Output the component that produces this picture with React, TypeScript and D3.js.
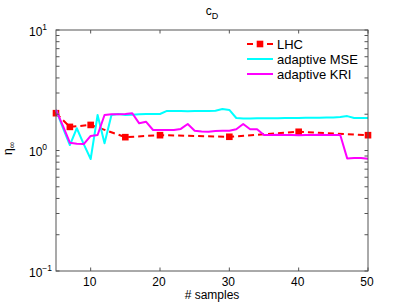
import React from "react";
import * as d3 from "d3";

const lhcN = [5, 7, 10, 15, 20, 30, 40, 50];
const lhcEta = [2.04, 1.57, 1.63, 1.29, 1.34, 1.3, 1.43, 1.34];

const adaptiveN = [
  5, 6, 7, 8, 9, 10, 11, 12, 13, 14, 15, 16, 17, 18, 19, 20, 21, 22, 23, 24, 25, 26, 27,
  28, 29, 30, 31, 32, 33, 34, 35, 36, 37, 38, 39, 40, 41, 42, 43, 44, 45, 46, 47, 48, 49, 50,
];
const mseEta = [
  2.17, 1.54, 1.11, 1.53, 1.13, 0.85, 1.97, 1.15, 1.97, 2.01, 1.97, 1.98, 2.0, 2.01, 2.01,
  2.01, 2.13, 2.13, 2.13, 2.12, 2.13, 2.13, 2.13, 2.14, 2.21, 2.17, 1.86, 1.84, 1.84, 1.85,
  1.85, 1.85, 1.85, 1.86, 1.86, 1.86, 1.87, 1.87, 1.87, 1.88, 1.88, 1.9, 1.93, 1.86, 1.86,
  1.86,
];
const kriEta = [
  2.17, 1.6, 1.16, 1.14, 1.13, 1.32, 1.345, 1.97, 2.0, 2.0, 2.01, 2.04, 1.68, 1.73, 1.48,
  1.48, 1.48, 1.48, 1.51, 1.66, 1.46, 1.44, 1.43, 1.45, 1.46, 1.46, 1.5, 1.66, 1.5, 1.5,
  1.345, 1.345, 1.35, 1.345, 1.345, 1.34, 1.345, 1.345, 1.35, 1.345, 1.345, 1.345, 0.86,
  0.867, 0.867, 0.855,
];

const xTicks = [10, 20, 30, 40, 50];
const yMajor = [0.1, 1, 10];
const yMajorExp = ["−1", "0", "1"];
const legendLabels = ["LHC", "adaptive MSE", "adaptive KRI"];
const seriesColors = ["#ff0000", "#00ffff", "#ff00ff"];

const W = 407;
const H = 306;
const L = 56;
const R = 368;
const T = 30;
const B = 271;
const FONT = "'Liberation Sans', Arial, Helvetica, sans-serif";

export default function App() {
  const x = d3.scaleLinear().domain([5, 50]).range([L, R]);
  const y = d3.scaleLog().domain([0.1, 10]).range([B, T]);

  const line = d3
    .line<[number, number]>()
    .x((d) => x(d[0]))
    .y((d) => y(d[1]));

  const lhcPts: [number, number][] = lhcN.map((n, i) => [n, lhcEta[i]]);
  const msePts: [number, number][] = adaptiveN.map((n, i) => [n, mseEta[i]]);
  const kriPts: [number, number][] = adaptiveN.map((n, i) => [n, kriEta[i]]);

  const minor: number[] = [];
  [0.1, 1].forEach((dec) => {
    for (let k = 2; k <= 9; k++) minor.push(dec * k);
  });

  const tl = 3.5;
  const axisColor = "#555";

  return (
    <svg
      width={W}
      height={H}
      style={{ position: "absolute", left: 0, top: 0, background: "#fff" }}
      fontFamily={FONT}
    >
      <rect x={0} y={0} width={W} height={H} fill="#fff" />
      {/* title */}
      <text x={212} y={15} fontSize={12} textAnchor="middle">
        c<tspan fontSize={9} dy={4}>D</tspan>
      </text>

      {/* data */}
      <g>
        <path d={line(lhcPts) || ""} fill="none" stroke={seriesColors[0]} strokeWidth={2} strokeDasharray="6,4" />
        {lhcPts.map((d, i) => (
          <rect key={i} x={x(d[0]) - 3.3} y={y(d[1]) - 3.3} width={6.6} height={6.6} fill={seriesColors[0]} />
        ))}
        <path d={line(msePts) || ""} fill="none" stroke={seriesColors[1]} strokeWidth={2} strokeLinejoin="round" />
        <path d={line(kriPts) || ""} fill="none" stroke={seriesColors[2]} strokeWidth={2} strokeLinejoin="round" />
      </g>

      {/* axes box */}
      <rect x={L} y={T} width={R - L} height={B - T} fill="none" stroke={axisColor} strokeWidth={1} />
      {xTicks.map((t) => (
        <g key={t}>
          <line x1={x(t)} x2={x(t)} y1={B} y2={B - tl} stroke={axisColor} />
          <line x1={x(t)} x2={x(t)} y1={T} y2={T + tl} stroke={axisColor} />
          <text x={x(t) - 1} y={285.5} fontSize={12} textAnchor="middle">
            {t}
          </text>
        </g>
      ))}
      {yMajor.map((t, i) => (
        <g key={t}>
          <line x1={L} x2={L + tl} y1={y(t)} y2={y(t)} stroke={axisColor} />
          <line x1={R} x2={R - tl} y1={y(t)} y2={y(t)} stroke={axisColor} />
          <text x={29} y={y(t) + 5.5} fontSize={12}>
            10
            <tspan fontSize={8.5} dy={-6}>
              {yMajorExp[i]}
            </tspan>
          </text>
        </g>
      ))}
      {minor.map((t) => (
        <g key={t}>
          <line x1={L} x2={L + tl} y1={y(t)} y2={y(t)} stroke={axisColor} />
          <line x1={R} x2={R - tl} y1={y(t)} y2={y(t)} stroke={axisColor} />
        </g>
      ))}

      {/* axis labels */}
      <text x={212} y={299} fontSize={12} textAnchor="middle">
        # samples
      </text>
      <text transform="translate(12,155) rotate(-90)" fontSize={12}>
        η<tspan fontSize={9} dy={3}>∞</tspan>
      </text>

      {/* legend */}
      {legendLabels.map((lab, i) => {
        const ly = 44 + i * 15;
        return (
          <g key={lab}>
            <line
              x1={247}
              x2={273}
              y1={ly}
              y2={ly}
              stroke={seriesColors[i]}
              strokeWidth={2}
              strokeDasharray={i === 0 ? "6,4" : undefined}
            />
            {i === 0 && <rect x={260 - 3.3} y={ly - 3.3} width={6.6} height={6.6} fill={seriesColors[0]} />}
            <text x={277} y={ly + 4.5} fontSize={13}>
              {lab}
            </text>
          </g>
        );
      })}
    </svg>
  );
}
